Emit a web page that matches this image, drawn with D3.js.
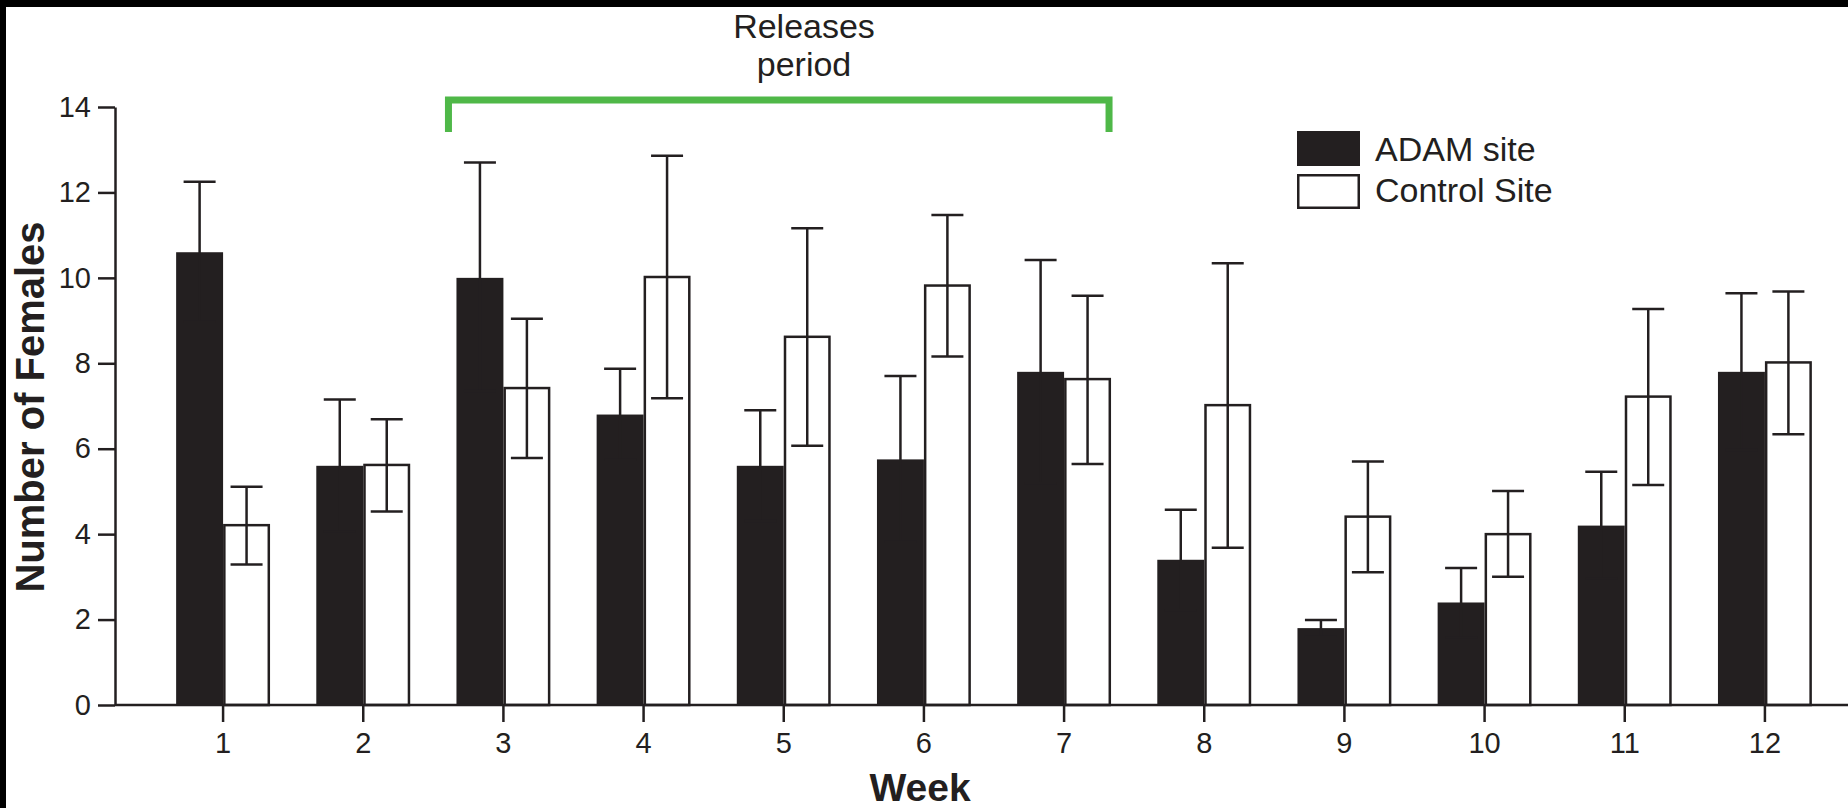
<!DOCTYPE html>
<html lang='en'>

<head>
   <meta charset='UTF-8'>
   <title>Number of Females per week</title>
   <script src='https://d3js.org/d3.v7.min.js'></script>
   <style>
      body {
         margin: 0;
         background: #000;
      }

      svg {
         display: block;
         font-family: 'Liberation Sans', Arial, Helvetica, sans-serif;
      }
   </style>
</head>

<body>
   <div id='svg-container'></div>
   <script>
      // values (mean and error bar ends)
      const weeks = [1, 2, 3, 4, 5, 6, 7, 8, 9, 10, 11, 12];
      const adam = [10.6, 5.6, 10.0, 6.8, 5.6, 5.75, 7.8, 3.4, 1.8, 2.4, 4.2, 7.8];
      const adamHi = [12.25, 7.15, 12.7, 7.87, 6.9, 7.7, 10.42, 4.57, 1.99, 3.21, 5.46, 9.64];
      const adamLo = [8.97, 4.06, 7.35, 5.74, 4.31, 3.82, 5.19, 2.22, 1.6, 1.58, 2.96, 5.97];
      const control = [4.21, 5.62, 7.42, 10.02, 8.62, 9.82, 7.63, 7.02, 4.41, 4.0, 7.22, 8.02];
      const controlHi = [5.11, 6.69, 9.04, 12.86, 11.16, 11.47, 9.58, 10.34, 5.7, 5.01, 9.27, 9.68];
      const controlLo = [3.29, 4.53, 5.78, 7.18, 6.07, 8.16, 5.64, 3.68, 3.11, 3.0, 5.15, 6.34];
      const yTicks = [0, 2, 4, 6, 8, 10, 12, 14];
      const seriesNames = ['ADAM site', 'Control Site'];
      const releaseWeeks = [3, 7];

      const W = 1848, H = 808;
      const ink = '#231f20';
      const axisLeftX = 115;

      const rows = weeks.map((w, i) => ({
         week: w,
         values: [
            { key: 'adam', v: adam[i], lo: adamLo[i], hi: adamHi[i] },
            { key: 'control', v: control[i], lo: controlLo[i], hi: controlHi[i] }
         ]
      }));

      const svg = d3.select('#svg-container').append('svg').attr('width', W).attr('height', H);
      svg.append('rect').attr('x', 6).attr('y', 7).attr('width', W - 6).attr('height', H - 7).attr('fill', '#fff');

      const y = d3.scaleLinear().domain([0, 14]).range([705, 107]);
      const x0 = d3.scaleBand().domain(weeks).range([153, 1835]).paddingInner(0.33).paddingOuter(0.165);
      const x1 = d3.scaleBand().domain(['adam', 'control']).range([0, x0.bandwidth()]);

      // bars
      const groups = svg.append('g').selectAll('g').data(rows).join('g')
         .attr('transform', d => `translate(${x0(d.week)},0)`);

      groups.selectAll('rect').data(d => d.values).join('rect')
         .attr('x', d => x1(d.key) + (d.key === 'control' ? 1.25 : 0))
         .attr('y', d => y(d.v))
         .attr('width', d => x1.bandwidth() - (d.key === 'control' ? 2.5 : 0))
         .attr('height', d => y(0) - y(d.v))
         .attr('fill', d => d.key === 'adam' ? ink : '#fff')
         .attr('stroke', d => d.key === 'adam' ? 'none' : ink)
         .attr('stroke-width', 2.5);

      // error bars
      const cap = 16;
      const err = groups.selectAll('g.err').data(d => d.values).join('g').attr('class', 'err')
         .attr('stroke', ink).attr('stroke-width', 2.5);
      err.append('line')
         .attr('x1', d => x1(d.key) + x1.bandwidth() / 2).attr('x2', d => x1(d.key) + x1.bandwidth() / 2)
         .attr('y1', d => y(d.lo)).attr('y2', d => y(d.hi));
      err.append('line')
         .attr('x1', d => x1(d.key) + x1.bandwidth() / 2 - cap).attr('x2', d => x1(d.key) + x1.bandwidth() / 2 + cap)
         .attr('y1', d => y(d.hi)).attr('y2', d => y(d.hi));
      err.append('line')
         .attr('x1', d => x1(d.key) + x1.bandwidth() / 2 - cap).attr('x2', d => x1(d.key) + x1.bandwidth() / 2 + cap)
         .attr('y1', d => y(d.lo)).attr('y2', d => y(d.lo));

      // axes
      const yAxis = svg.append('g').attr('transform', `translate(${axisLeftX},0)`)
         .call(d3.axisLeft(y).tickValues(yTicks).tickSize(17).tickSizeOuter(0).tickPadding(7));
      const xAxis = svg.append('g').attr('transform', `translate(0,${y(0)})`)
         .call(d3.axisBottom(x0).tickSize(17).tickSizeOuter(0).tickPadding(10));
      xAxis.select('.domain').remove();
      svg.append('line').attr('x1', axisLeftX).attr('x2', W).attr('y1', y(0)).attr('y2', y(0))
         .attr('stroke', ink).attr('stroke-width', 2.5);

      [yAxis, xAxis].forEach(a => {
         a.selectAll('path, line').attr('stroke', ink).attr('stroke-width', 2.5);
         a.selectAll('text').attr('fill', ink).style('font-size', '29px')
            .style('font-family', "'Liberation Sans', Arial, sans-serif");
      });

      // axis titles
      svg.append('text')
         .attr('transform', `translate(44,407) rotate(-90)`)
         .attr('text-anchor', 'middle')
         .attr('font-weight', 'bold').attr('font-size', 40).attr('fill', ink)
         .text('Number of Females');
      svg.append('text')
         .attr('x', 920).attr('y', 801)
         .attr('text-anchor', 'middle')
         .attr('font-weight', 'bold').attr('font-size', 39).attr('fill', ink)
         .text('Week');

      // releases bracket
      const bx0 = x0(releaseWeeks[0]) - 8;
      const bx1 = x0(releaseWeeks[1]) + x0.bandwidth() - 2;
      svg.append('path')
         .attr('d', `M${bx0},132 V100 H${bx1} V132`)
         .attr('fill', 'none').attr('stroke', '#4fb848').attr('stroke-width', 7);
      const title = svg.append('text').attr('x', 804).attr('text-anchor', 'middle')
         .attr('font-size', 34).attr('fill', ink);
      title.append('tspan').attr('x', 804).attr('y', 38).text('Releases');
      title.append('tspan').attr('x', 804).attr('y', 76).text('period');

      // legend
      const legend = svg.append('g').attr('transform', 'translate(1297,131)');
      legend.selectAll('rect').data(seriesNames).join('rect')
         .attr('x', (d, i) => i ? 1.25 : 0)
         .attr('y', (d, i) => i * 43 + (i ? 1.25 : 0))
         .attr('width', (d, i) => i ? 60.5 : 63)
         .attr('height', (d, i) => i ? 32.5 : 35)
         .attr('fill', (d, i) => i ? '#fff' : ink)
         .attr('stroke', (d, i) => i ? ink : 'none')
         .attr('stroke-width', 2.5);
      legend.selectAll('text').data(seriesNames).join('text')
         .attr('x', 78)
         .attr('y', (d, i) => 30 + i * 41)
         .attr('font-size', 34).attr('fill', ink)
         .text(d => d);
   </script>
</body>

</html>
